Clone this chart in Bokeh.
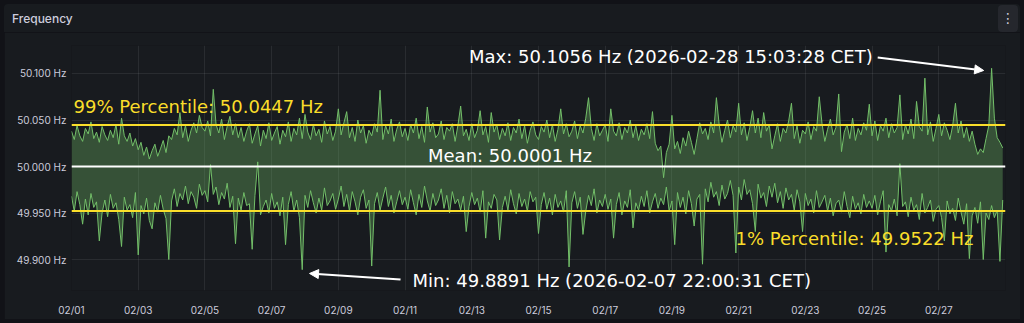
from datetime import datetime, timedelta
import numpy as np
from bokeh.plotting import figure
from bokeh.layouts import column
from bokeh.models import (ColumnDataSource, Range1d, Span, Label, Arrow, NormalHead, Div,
                          FixedTicker, PrintfTickFormatter, CustomJSTickFormatter)
from bokeh.embed import file_html
from bokeh.resources import INLINE

# ---------------- data ----------------
START = datetime(2026, 2, 1)
END = datetime(2026, 3, 1)
STEP_HOURS = 2

# upper envelope (max per interval), deviation from 50 Hz in mHz, 12 points per day
upper_mhz = [
    38, 29, 44, 33, 27, 41, 35, 48, 30, 37, 26, 43,
    34, 28, 39, 31, 45, 24, 52, 33, 27, 36, 22, 30,
    18, 26, 12, 21, 8, 17, 24, 11, 19, 28, 15, 33,
    29, 41, 34, 58, 31, 44, 27, 39, 47, 36, 55, 42,
    38, 49, 33, 83, 45, 36, 51, 29, 43, 54, 34, 46,
    31, 42, 27, 38, 46, 25, 35, 44, 22, 39, 30, 47,
    28, 36, 43, 24, 39, 32, 48, 27, 41, 34, 52, 30,
    56, 37, 29, 45, 33, 40, 26, 49, 35, 43, 28, 38,
    62, 34, 47, 59, 31, 42, 27, 50, 36, 44, 25, 39,
    33, 46, 37, 82, 29, 44, 35, 51, 27, 40, 48, 32,
    41, 28, 45, 36, 52, 30, 43, 26, 64, 37, 47, 31,
    35, 49, 29, 42, 38, 46, 27, 44, 65, 33, 40, 28,
    46, 31, 39, 60, 34, 43, 26, 58, 37, 45, 29, 41,
    33, 47, 28, 42, 36, 51, 30, 44, 25, 39, 48, 34,
    29, 43, 37, 50, 31, 45, 27, 40, 62, 35, 46, 32,
    38, 49, 30, 44, 36, 52, 74, 41, 28, 46, 33, 39,
    45, 27, 62, 38, 33, 47, 29, 42, 36, 50, 31, 44,
    28, 40, 34, 46, 30, 59, 25, 17, 22, -12, 15, 24,
    55, 19, 27, 14, 31, 22, 38, 26, 13, 30, 47, 35,
    41, 29, 48, 36, 74, 45, 26, 39, 50, 31, 44, 37,
    68, 34, 47, 28, 42, 60, 36, 52, 31, 58, 38, 45,
    19, 33, 46, 27, 41, 36, 49, 68, 30, 44, 25, 39,
    35, 48, 29, 43, 38, 75, 46, 27, 40, 51, 34, 42,
    78, 16, 37, 45, 30, 52, 28, 41, 34, 47, 39, 67,
    33, 49, 28, 44, 38, 52, 31, 46, 36, 42, 77, 29,
    45, 35, 51, 30, 70, 43, 38, 95, 34, 48, 27, 41,
    56, 33, 47, 39, 29, 44, 68, 36, 49, 31, 42, 27,
    38, 24, 13, 19, 15, 30, 44, 105.6, 52, 31, 26, 20,
]

# lower envelope (min per interval), deviation from 50 Hz in mHz
lower_mhz = [
    -32, -48, -27, -41, -62, -35, -52, -29, -44, -38, -80, -50,
    -36, -54, -30, -45, -39, -57, -86, -33, -47, -41, -55, -28,
    -95, -42, -51, -34, -58, -67, -39, -49, -31, -46, -56, -100,
    -37, -24, -43, -29, -36, -21, -40, -27, -33, -45, -19, -31,
    -26, -38, 2, -30, -22, -41, -28, -35, -18, -44, -32, -83,
    -34, -47, -28, -42, -40, -89, -31, 5, -52, -43, -36, -50,
    -29, -45, -38, -53, -33, -84, -41, -27, -48, -36, -55, -110.9,
    -31, -44, -26, -39, -50, -34, -47, -23, -42, -37, -29, -46,
    -35, -21, -43, -30, -48, -27, -38, -52, -33, -25, -45, -36,
    -107, -40, -28, -47, -34, -22, -43, -31, -50, -38, -26, -41,
    -33, -46, -25, -39, -52, -30, -44, -21, -37, -48, -29, -42,
    -36, -24, -45, -31, -50, -27, -40, -35, -47, -32, -70, -43,
    -28, -41, -34, -49, -26, -77, -38, -45, -30, -36, -79, -44,
    -32, -47, -25, -40, -51, -29, -43, -35, -48, -27, -38, -33,
    -72, -41, -28, -46, -34, -52, -30, -44, -37, -49, -26, -108,
    -39, -27, -45, -33, -73, -48, -31, -42, -24, -50, -36, -43,
    -30, -46, -35, -77, -41, -28, -52, -37, -44, -25, -66, -39,
    -47, -32, -43, -26, -50, -38, -29, -45, -34, -41, -22, -48,
    -37, -84, -28, -44, -33, -51, -26, -40, -64, -35, -30, -105,
    -24, -38, -17, -33, -27, -42, -20, -35, -29, -15, -31, -93,
    -22, -36, -14, -30, -25, -40, -70, -19, -34, -28, -43, -21,
    -33, -18, -39, -27, -45, -23, -36, -30, -47, -25, -38, -70,
    -29, -42, -35, -50, -26, -44, -38, -31, -48, -34, -53, -40,
    -36, -49, -27, -43, -55, -32, -46, -39, -51, -30, -44, -37,
    -45, -31, -52, -38, -26, -92, -41, -48, -35, -53, 3, -43,
    -38, -54, -33, -47, -41, -57, -29, -50, -44, -36, -59, -46,
    -42, -55, -80, -37, -51, -45, -58, -34, -49, -62, -40, -99,
    -53, -44, -61, -38, -100, -50, -57, -42, -55, -47, -102, -36,
]

p99 = 50.0447
p01 = 49.9522
mean_val = 50.0001
max_val = 50.1056
max_time = datetime(2026, 2, 28, 15, 3, 28)
min_val = 49.8891
min_time = datetime(2026, 2, 7, 22, 0, 31)

y_ticks = [49.90, 49.95, 50.00, 50.05, 50.10]
x_tick_days = [1, 3, 5, 7, 9, 11, 13, 15, 17, 19, 21, 23, 25, 27]
x_tick_labels = ["02/01", "02/03", "02/05", "02/07", "02/09", "02/11", "02/13",
                 "02/15", "02/17", "02/19", "02/21", "02/23", "02/25", "02/27"]

title_text = "Frequency"
max_text = "Max: 50.1056 Hz (2026-02-28 15:03:28 CET)"
min_text = "Min: 49.8891 Hz (2026-02-07 22:00:31 CET)"
p99_text = "99% Percentile: 50.0447 Hz"
p01_text = "1% Percentile: 49.9522 Hz"
mean_text = "Mean: 50.0001 Hz"

# ---------------- helpers ----------------
EPOCH = datetime(1970, 1, 1)


def ms(dt):
    return (dt - EPOCH).total_seconds() * 1000.0


Y0, Y1 = 49.8667, 50.1301
FRAME_W, FRAME_H = 934, 245
MS_PER_PX = (ms(END) - ms(START)) / FRAME_W
HZ_PER_PX = (Y1 - Y0) / FRAME_H
LIFT = 7  # baseline correction for Label text

times = [ms(START + timedelta(hours=STEP_HOURS * i)) for i in range(len(upper_mhz))]
src = ColumnDataSource(dict(
    t=times,
    hi=50.0 + np.array(upper_mhz, dtype=float) / 1000.0,
    lo=50.0 + np.array(lower_mhz, dtype=float) / 1000.0,
))

GREEN = "#73BF69"
YELLOW = "#FADE2A"
TXT = "#ccccdc"
PANEL = "#181b1f"
HEADER_H = 28

header = Div(
    text=(
        '<div style="position:relative;width:1016px;height:%dpx;">'
        '<span style="position:absolute;left:8px;top:7px;line-height:15px;'
        'font-family:Inter,sans-serif;font-size:12px;font-weight:500;color:%s;">%s</span>'
        '<span style="position:absolute;left:994px;top:1px;width:20px;height:27px;'
        'background:#25272d;border-radius:4px;color:%s;font-family:\'DejaVu Sans\';'
        'font-size:14px;line-height:27px;text-align:center;">&#8942;</span>'
        '</div>' % (HEADER_H, TXT, title_text, TXT)
    ),
    width=1016, height=HEADER_H, margin=(4, 4, 0, 4),
    styles={"background-color": PANEL, "border-radius": "4px 4px 0 0"},
)

fig = figure(width=1016, height=323 - 8 - HEADER_H, output_backend="svg", toolbar_location=None,
             x_range=Range1d(ms(START), ms(END)), y_range=Range1d(Y0, Y1),
             background_fill_color=PANEL, border_fill_color=PANEL,
             outline_line_color=None,
             min_border_left=67, min_border_right=15, min_border_top=45 - 4 - HEADER_H,
             min_border_bottom=29)
fig.margin = (0, 4, 4, 4)

fig.varea(x="t", y1="lo", y2="hi", source=src, fill_color=GREEN, fill_alpha=0.33)
fig.line("t", "hi", source=src, line_color=GREEN, line_width=1)
fig.line("t", "lo", source=src, line_color=GREEN, line_width=1)

fig.add_layout(Span(location=p99, dimension="width", line_color=YELLOW, line_width=2))
fig.add_layout(Span(location=p01, dimension="width", line_color=YELLOW, line_width=2))
fig.add_layout(Span(location=mean_val, dimension="width", line_color="#ffffff", line_width=2))

# axes
tick_ms = [ms(datetime(2026, 2, d)) for d in x_tick_days]
fig.xaxis.ticker = FixedTicker(ticks=tick_ms)
fig.xaxis.formatter = CustomJSTickFormatter(
    args=dict(tick_vals=tick_ms, tick_labels=x_tick_labels),
    code="""
for (let i = 0; i < tick_vals.length; i++) {
  if (Math.abs(tick_vals[i] - tick) < 1000) { return tick_labels[i]; }
}
return "";
""")
fig.yaxis.ticker = FixedTicker(ticks=y_ticks)
fig.yaxis.formatter = PrintfTickFormatter(format="%.3f Hz")
for ax in (fig.xaxis, fig.yaxis):
    ax.axis_line_color = None
    ax.major_tick_line_color = None
    ax.minor_tick_line_color = None
    ax.major_tick_out = 0
    ax.major_tick_in = 0
    ax.minor_tick_out = 0
    ax.minor_tick_in = 0
    ax.major_label_text_font = "Inter"
    ax.major_label_text_font_size = "10px"
    ax.major_label_text_color = TXT
fig.yaxis.major_label_standoff = 5
fig.xaxis.major_label_standoff = 13
fig.grid.grid_line_color = "#f0faff"
fig.grid.grid_line_alpha = 0.08

# annotations
FONT = "DejaVu Sans"
fig.add_layout(Label(x=ms(START), y=p99, x_offset=2, y_offset=11.4 + LIFT, text=p99_text,
                     text_font=FONT, text_font_size="18px", text_color=YELLOW,
                     text_baseline="alphabetic"))
fig.add_layout(Label(x=ms(END), y=p01, x_offset=-32, y_offset=-34.4 + LIFT, text=p01_text,
                     text_font=FONT, text_font_size="18px", text_color=YELLOW,
                     text_align="right", text_baseline="alphabetic"))
mid = (ms(START) + ms(END)) / 2
fig.add_layout(Label(x=mid, y=mean_val, x_offset=-28.5, y_offset=4 + LIFT, text=mean_text,
                     text_font=FONT, text_font_size="18px", text_color="#ffffff",
                     text_align="center", text_baseline="alphabetic"))
fig.add_layout(Label(x=ms(max_time), y=max_val, x_offset=-120.4, y_offset=4.8 + LIFT, text=max_text,
                     text_font=FONT, text_font_size="18px", text_color="#ffffff",
                     text_align="right", text_baseline="alphabetic"))
fig.add_layout(Label(x=ms(min_time), y=min_val, x_offset=110.3, y_offset=-17.8 + LIFT, text=min_text,
                     text_font=FONT, text_font_size="18px", text_color="#ffffff",
                     text_align="left", text_baseline="alphabetic"))

fig.add_layout(Arrow(end=NormalHead(size=9, line_color="#ffffff", fill_color="#ffffff"),
                     x_start=ms(max_time) - 115.4 * MS_PER_PX, y_start=max_val + 10.8 * HZ_PER_PX,
                     x_end=ms(max_time) - 9.4 * MS_PER_PX, y_end=max_val - 2.2 * HZ_PER_PX,
                     line_color="#ffffff", line_width=2))
fig.add_layout(Arrow(end=NormalHead(size=9, line_color="#ffffff", fill_color="#ffffff"),
                     x_start=ms(min_time) + 98.3 * MS_PER_PX, y_start=min_val - 9.8 * HZ_PER_PX,
                     x_end=ms(min_time) + 7.3 * MS_PER_PX, y_end=min_val - 3.8 * HZ_PER_PX,
                     line_color="#ffffff", line_width=2))

p = column(header, fig, width=1024, height=323, spacing=0,
           styles={"background-color": "#111217"})

open("out.html", "w").write(file_html(p, INLINE))
